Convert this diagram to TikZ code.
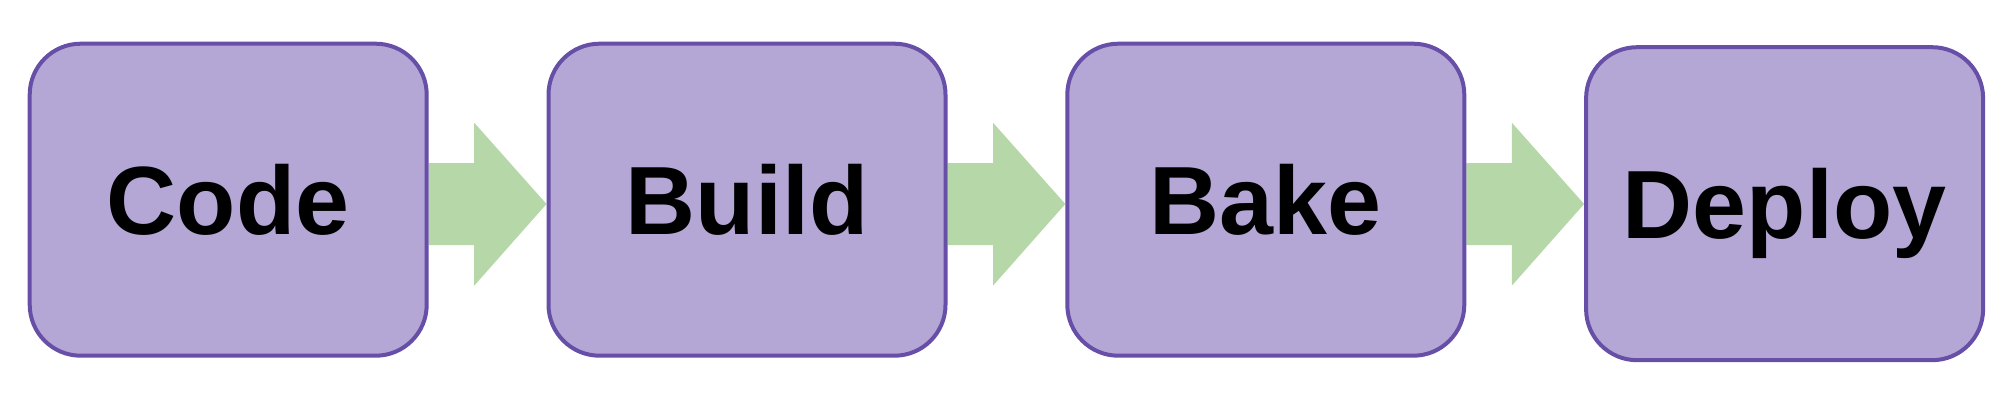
\documentclass[tikz,border=0pt]{standalone}
\usepackage{fontspec}
\setmainfont{Liberation Sans}
\usetikzlibrary{calc,backgrounds}
\definecolor{boxfill}{HTML}{B4A7D6}
\definecolor{boxline}{HTML}{674EA7}
\definecolor{arrowgreen}{HTML}{B6D7A8}
\tikzset{
  stage/.style={draw=boxline, fill=boxfill, line width=4pt, rounded corners=51pt,
    minimum width=397pt, minimum height=312pt, inner sep=0pt,
    font=\fontsize{97pt}{97pt}\selectfont\bfseries, text=black,
    text height=69.5pt, text depth=0pt},
  bigarrow/.style={fill=arrowgreen}
}
\begin{document}
\begin{tikzpicture}[x=1pt,y=-1pt]
\useasboundingbox (0,0) rectangle (2000,415);
\node[stage] (code) at (228.2,199.7) {Code};
\node[stage] (build) at (747,199.7) {Build};
\node[stage] (bake) at (1265.8,199.7) {Bake};
\node[stage, minimum height=313pt] (deploy) at (1784.6,203.7) {Deploy};
\coordinate (ay) at (0,204);
\begin{scope}[on background layer]
\foreach \a/\b in {code/build, build/bake, bake/deploy}{
  \fill[bigarrow] ($(\a.east |- ay)+(0,-41)$) -- ++(45.5,0) -- ++(0,-40.3)
    -- (\b.west |- ay) -- ($(\a.east |- ay)+(45.5,81.7)$) -- ++(0,-40.7)
    -- ($(\a.east |- ay)+(0,41)$) -- cycle;
}
\end{scope}
\end{tikzpicture}
\end{document}
